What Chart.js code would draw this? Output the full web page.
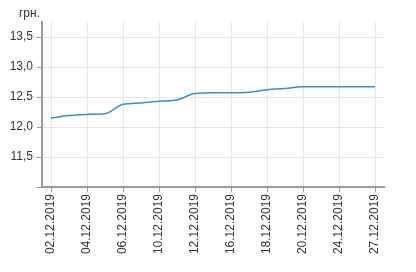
<!DOCTYPE html>
<html>
<head>
<meta charset="utf-8">
<script src="https://cdn.jsdelivr.net/npm/chart.js@4/dist/chart.umd.min.js"></script>
<style>
  html, body { margin: 0; padding: 0; background: #fff; }
  #wrap { width: 416px; height: 272px; }
</style>
</head>
<body>
<div id="wrap"><canvas id="chart"></canvas></div>
<script>
const dates = ['02.12.2019', '03.12.2019', '04.12.2019', '05.12.2019', '06.12.2019',
    '09.12.2019', '10.12.2019', '11.12.2019', '12.12.2019', '13.12.2019',
    '16.12.2019', '17.12.2019', '18.12.2019', '19.12.2019', '20.12.2019',
    '23.12.2019', '24.12.2019', '26.12.2019', '27.12.2019'];
const rates = [12.15, 12.19, 12.21, 12.22, 12.38,
    12.40, 12.43, 12.45, 12.56, 12.57,
    12.57, 12.58, 12.62, 12.64, 12.67,
    12.67, 12.67, 12.67, 12.67];
const yTicks = [11, 11.5, 12, 12.5, 13, 13.5];
const unitLabel = 'грн.';

Chart.defaults.font.family = '"Liberation Sans", Arial, sans-serif';
Chart.defaults.font.size = 12;
Chart.defaults.color = '#333';

const unitPlugin = {
    id: 'unitLabel',
    afterDraw(chart) {
        const ctx = chart.ctx;
        ctx.save();
        ctx.font = '12px "Liberation Sans", Arial, sans-serif';
        ctx.fillStyle = '#333';
        ctx.textAlign = 'right';
        ctx.textBaseline = 'alphabetic';
        ctx.fillText(unitLabel, 40, 17);
        ctx.restore();
    }
};

const ctx = document.getElementById('chart').getContext('2d');
const chart = new Chart(ctx, {
    type: 'line',
    data: {
        labels: dates,
        datasets: [{
            data: rates,
            borderColor: '#3a8dc5',
            borderWidth: 1.5,
            pointRadius: 0,
            fill: false,
            cubicInterpolationMode: 'monotone'
        }]
    },
    options: {
        responsive: true,
        maintainAspectRatio: false,
        animation: false,
        layout: {
            padding: { top: 22, right: 32, left: 0, bottom: 0 }
        },
        scales: {
            x: {
                offset: true,
                afterBuildTicks: function(scale) {
                    scale.ticks = scale.ticks.filter((t, i) => i % 2 === 0);
                },
                afterFit: function(scale) {
                    scale.height = 85;
                },
                grid: {
                    color: '#e6e6e6',
                    tickColor: '#999',
                    tickLength: 5,
                    offset: false
                },
                border: { color: '#999', width: 2 },
                ticks: {
                    autoSkip: false,
                    minRotation: 90,
                    maxRotation: 90,
                    padding: 2,
                    color: '#333',
                    callback: function(value) {
                        return this.getLabelForValue(value);
                    }
                }
            },
            y: {
                min: 11,
                max: 13.75,
                afterBuildTicks: function(scale) {
                    scale.ticks = yTicks.map(v => ({ value: v }));
                },
                afterFit: function(scale) {
                    scale.width = 42;
                },
                grid: {
                    color: '#e6e6e6',
                    tickColor: '#999',
                    tickLength: 5
                },
                border: { color: '#999', width: 2 },
                ticks: {
                    padding: 4,
                    color: '#333',
                    callback: function(value) {
                        if (value === 11) return '';
                        return value.toFixed(1).replace('.', ',');
                    }
                }
            }
        },
        plugins: {
            legend: { display: false },
            tooltip: { enabled: false }
        }
    },
    plugins: [unitPlugin]
});
</script>
</body>
</html>
